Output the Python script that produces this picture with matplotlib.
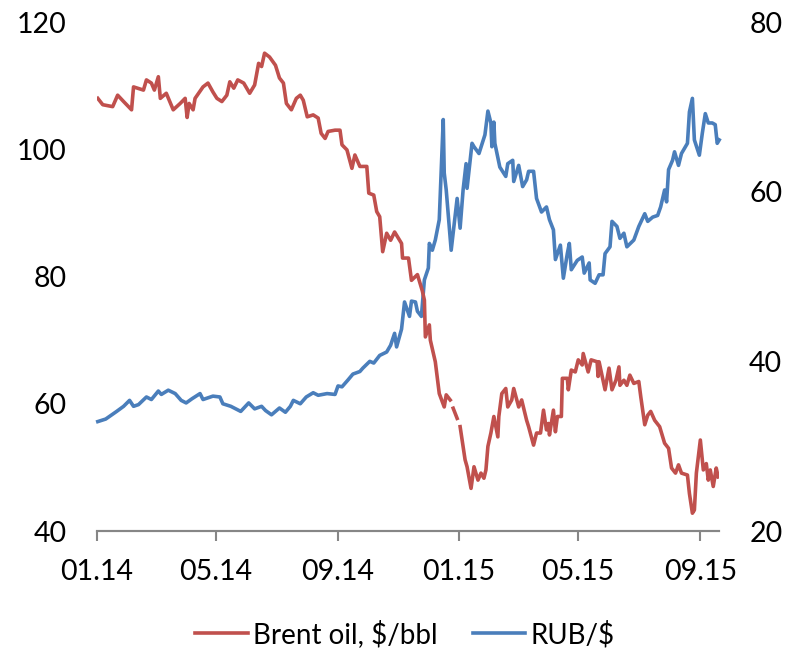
import numpy as np
import pandas as pd
import matplotlib
matplotlib.use('Agg')
import matplotlib.pyplot as plt
import matplotlib.dates as mdates

plt.rcParams['font.family'] = ['Lato', 'DejaVu Sans']

# Brent oil, $/bbl (left axis); None = no quote that day
brent_dates = ['2014-01-02', '2014-01-07', '2014-01-17', '2014-01-22', '2014-01-28', '2014-02-05', '2014-02-07',
               '2014-02-17', '2014-02-20', '2014-02-25', '2014-02-28', '2014-03-04', '2014-03-06', '2014-03-12',
               '2014-03-19', '2014-03-26', '2014-03-31', '2014-04-02', '2014-04-04', '2014-04-08', '2014-04-10',
               '2014-04-18', '2014-04-23', '2014-04-28', '2014-05-02', '2014-05-07', '2014-05-12', '2014-05-15',
               '2014-05-19', '2014-05-23', '2014-05-29', '2014-06-04', '2014-06-09', '2014-06-13', '2014-06-16',
               '2014-06-19', '2014-06-24', '2014-06-30', '2014-07-04', '2014-07-08', '2014-07-11', '2014-07-16',
               '2014-07-21', '2014-07-25', '2014-07-28', '2014-08-01', '2014-08-07', '2014-08-12', '2014-08-15',
               '2014-08-19', '2014-08-22', '2014-08-29', '2014-09-03', '2014-09-05', '2014-09-10', '2014-09-15',
               '2014-09-18', '2014-09-23', '2014-09-30', '2014-10-02', '2014-10-07', '2014-10-10', '2014-10-13',
               '2014-10-16', '2014-10-20', '2014-10-24', '2014-10-28', '2014-11-04', '2014-11-05', '2014-11-11',
               '2014-11-14', '2014-11-20', '2014-11-25', '2014-11-27', '2014-11-28', '2014-12-02', '2014-12-03',
               '2014-12-08', '2014-12-12', '2014-12-17', '2014-12-19', '2014-12-23', '2014-12-25', '2014-12-26',
               '2014-12-30', '2015-01-01', '2015-01-02', '2015-01-07', '2015-01-09', '2015-01-13', '2015-01-16',
               '2015-01-20', '2015-01-23', '2015-01-26', '2015-01-28', '2015-01-30', '2015-02-02', '2015-02-05',
               '2015-02-09', '2015-02-10', '2015-02-13', '2015-02-17', '2015-02-19', '2015-02-23', '2015-02-25',
               '2015-03-02', '2015-03-05', '2015-03-10', '2015-03-12', '2015-03-17', '2015-03-20', '2015-03-24',
               '2015-03-27', '2015-03-30', '2015-04-01', '2015-04-02', '2015-04-06', '2015-04-08', '2015-04-10',
               '2015-04-14', '2015-04-15', '2015-04-20', '2015-04-21', '2015-04-24', '2015-04-28', '2015-05-01',
               '2015-05-05', '2015-05-06', '2015-05-11', '2015-05-14', '2015-05-20', '2015-05-21', '2015-05-22',
               '2015-05-28', '2015-06-01', '2015-06-04', '2015-06-08', '2015-06-11', '2015-06-12', '2015-06-16',
               '2015-06-19', '2015-06-22', '2015-06-26', '2015-07-01', '2015-07-03', '2015-07-07', '2015-07-10',
               '2015-07-13', '2015-07-17', '2015-07-22', '2015-07-27', '2015-07-31', '2015-08-03', '2015-08-07',
               '2015-08-10', '2015-08-13', '2015-08-19', '2015-08-21', '2015-08-24', '2015-08-26', '2015-08-28',
               '2015-09-01', '2015-09-04', '2015-09-07', '2015-09-09', '2015-09-11', '2015-09-14', '2015-09-17',
               '2015-09-19']
brent = [108.0, 107.0, 106.7, 108.5, 107.5, 106.2, 109.8,
         109.3, 110.9, 110.4, 109.3, 111.4, 108.0, 108.8,
         106.2, 107.2, 108.0, 105.0, 107.2, 106.2, 108.0,
         109.8, 110.4, 109.0, 108.0, 107.5, 108.5, 110.6,
         109.6, 110.9, 110.4, 108.8, 110.1, 113.5, 113.0,
         115.1, 114.5, 113.2, 111.2, 110.4, 107.2, 106.2,
         108.0, 108.5, 107.7, 105.1, 105.4, 104.9, 102.5,
         101.7, 102.8, 103.0, 103.0, 100.7, 99.9, 97.0,
         99.1, 97.3, 97.3, 93.1, 92.8, 90.2, 89.4,
         83.9, 86.8, 85.7, 87.0, 85.2, 82.9, 82.9,
         79.4, 80.3, 77.7, 76.3, 70.5, 72.4, 70.0,
         66.6, 61.6, 59.5, 61.4, 60.6, None, 59.3,
         57.7, None, 56.4, 51.2, 50.1, 46.7, 50.1,
         48.0, 49.1, 48.3, 49.6, 53.3, 55.4, 58.0,
         54.8, 58.0, 61.6, 62.4, 59.5, 60.6, 62.4,
         59.5, 60.6, 57.4, 56.4, 53.5, 55.4, 55.4,
         59.0, 55.9, 56.9, 55.1, 59.0, 55.6, 58.0,
         58.0, 64.0, 64.0, 62.2, 65.3, 65.0, 66.9,
         66.1, 67.9, 65.0, 66.9, 66.6, 64.3, 66.6,
         62.2, 65.6, 62.2, 63.7, 65.8, 62.9, 63.7,
         62.9, 64.5, 63.2, 63.5, 61.1, 56.7, 58.2,
         58.8, 57.4, 56.4, 53.8, 53.0, 49.9, 49.1,
         50.4, 49.1, 48.8, 45.9, 42.8, 43.3, 49.1,
         54.3, 49.6, 50.6, 48.0, 49.6, 47.0, 49.9,
         48.5]

# RUB per USD (right axis)
rub_dates = ['2014-01-02', '2014-01-10', '2014-01-21', '2014-01-28', '2014-02-03', '2014-02-07', '2014-02-12',
             '2014-02-20', '2014-02-25', '2014-03-04', '2014-03-07', '2014-03-14', '2014-03-21', '2014-03-27',
             '2014-04-01', '2014-04-07', '2014-04-15', '2014-04-18', '2014-04-28', '2014-05-05', '2014-05-08',
             '2014-05-16', '2014-05-26', '2014-06-03', '2014-06-09', '2014-06-16', '2014-06-20', '2014-06-26',
             '2014-07-04', '2014-07-10', '2014-07-15', '2014-07-18', '2014-07-25', '2014-07-31', '2014-08-07',
             '2014-08-12', '2014-08-21', '2014-08-29', '2014-09-01', '2014-09-05', '2014-09-11', '2014-09-16',
             '2014-09-23', '2014-09-26', '2014-10-03', '2014-10-07', '2014-10-13', '2014-10-20', '2014-10-24',
             '2014-10-28', '2014-10-30', '2014-11-04', '2014-11-07', '2014-11-12', '2014-11-14', '2014-11-18',
             '2014-11-20', '2014-11-24', '2014-11-27', '2014-12-01', '2014-12-02', '2014-12-05', '2014-12-08',
             '2014-12-12', '2014-12-16', '2014-12-17', '2014-12-19', '2014-12-24', '2014-12-26', '2014-12-30',
             '2015-01-02', '2015-01-05', '2015-01-08', '2015-01-09', '2015-01-14', '2015-01-16', '2015-01-21',
             '2015-01-27', '2015-01-30', '2015-02-02', '2015-02-03', '2015-02-05', '2015-02-06', '2015-02-11',
             '2015-02-17', '2015-02-19', '2015-02-24', '2015-02-25', '2015-03-02', '2015-03-06', '2015-03-10',
             '2015-03-12', '2015-03-17', '2015-03-20', '2015-03-25', '2015-03-30', '2015-04-02', '2015-04-06',
             '2015-04-08', '2015-04-13', '2015-04-16', '2015-04-20', '2015-04-22', '2015-04-24', '2015-04-30',
             '2015-05-05', '2015-05-07', '2015-05-12', '2015-05-13', '2015-05-18', '2015-05-22', '2015-05-26',
             '2015-05-28', '2015-06-02', '2015-06-04', '2015-06-09', '2015-06-12', '2015-06-16', '2015-06-19',
             '2015-06-26', '2015-07-01', '2015-07-07', '2015-07-10', '2015-07-15', '2015-07-20', '2015-07-23',
             '2015-07-27', '2015-07-29', '2015-07-31', '2015-08-04', '2015-08-06', '2015-08-10', '2015-08-13',
             '2015-08-19', '2015-08-21', '2015-08-24', '2015-08-26', '2015-08-31', '2015-09-03', '2015-09-06',
             '2015-09-09', '2015-09-13', '2015-09-16', '2015-09-18', '2015-09-20']
rub = [32.9, 33.2, 34.1, 34.7, 35.4, 34.7, 34.9,
       35.8, 35.5, 36.5, 36.1, 36.6, 36.2, 35.4,
       35.1, 35.6, 36.2, 35.5, 35.9, 35.8, 35.0,
       34.7, 34.1, 35.1, 34.4, 34.7, 34.2, 33.7,
       34.5, 34.0, 34.7, 35.4, 35.0, 35.8, 36.3,
       36.0, 36.2, 36.1, 37.1, 37.0, 37.8, 38.5,
       38.8, 39.2, 40.0, 39.8, 40.7, 41.1, 41.9,
       43.3, 41.7, 43.8, 47.0, 45.3, 47.1, 47.0,
       45.9, 45.3, 49.6, 51.0, 53.9, 53.1, 54.3,
       56.7, 68.5, 62.2, 60.2, 53.1, 55.1, 59.2,
       55.7, 60.2, 63.3, 60.4, 65.7, 65.3, 64.5,
       66.7, 69.5, 68.1, 65.3, 68.2, 65.7, 62.9,
       61.8, 63.3, 63.7, 61.2, 63.1, 60.6, 61.4,
       62.4, 62.4, 59.2, 57.6, 58.2, 56.7, 55.5,
       52.0, 53.7, 49.8, 52.7, 53.9, 50.8, 51.9,
       52.3, 50.4, 51.6, 49.6, 49.2, 50.2, 50.2,
       52.7, 53.5, 56.5, 55.9, 54.5, 55.1, 53.5,
       54.3, 55.9, 57.4, 56.5, 57.0, 57.2, 58.2,
       60.2, 58.8, 62.6, 63.7, 64.7, 63.1, 64.5,
       65.7, 69.4, 71.0, 66.1, 64.3, 66.9, 69.2,
       68.1, 68.1, 67.9, 65.7, 66.1]

red = '#C0504D'
blue = '#4A7EBB'
grey = '#868686'

fig = plt.figure(figsize=(8, 6.51), dpi=100)
ax = fig.add_axes([0.121, 0.1843, 0.778, 0.7819])
ax2 = ax.twinx()

b = np.array([np.nan if v is None else v for v in brent], dtype=float)
l1, = ax.plot(pd.to_datetime(brent_dates), b, color=red, lw=2.6, label='Brent oil, $/bbl')
l2, = ax2.plot(pd.to_datetime(rub_dates), rub, color=blue, lw=2.6, label='RUB/$', clip_on=False)
ax.set_zorder(ax2.get_zorder() + 1)
ax.patch.set_visible(False)

ax.set_xlim(pd.Timestamp('2014-01-01'), pd.Timestamp('2015-09-20'))
ax.set_ylim(40, 120)
ax.set_yticks([40, 60, 80, 100, 120])
ax2.set_ylim(20, 80)
ax2.set_yticks([20, 40, 60, 80])

ax.xaxis.set_major_locator(mdates.MonthLocator(bymonth=[1, 5, 9]))
ax.xaxis.set_major_formatter(mdates.DateFormatter('%m.%y'))

for a in (ax, ax2):
    for s in ('top', 'left', 'right'):
        a.spines[s].set_visible(False)
    a.spines['bottom'].set_color(grey)
    a.spines['bottom'].set_linewidth(1.5)
ax.tick_params(axis='x', length=7, width=1.5, color=grey, labelsize=20.5, pad=13)
ax.tick_params(axis='y', length=0, labelsize=20.5, pad=21.6)
ax2.tick_params(axis='y', length=0, labelsize=20.5, pad=21.6)

fig.legend(handles=[l1, l2], loc='center', bbox_to_anchor=(0.506, 0.026), ncol=2, frameon=False,
           fontsize=20, handlelength=1.9, handletextpad=0.18, columnspacing=1.26)

fig.savefig('out.png', dpi=100)
